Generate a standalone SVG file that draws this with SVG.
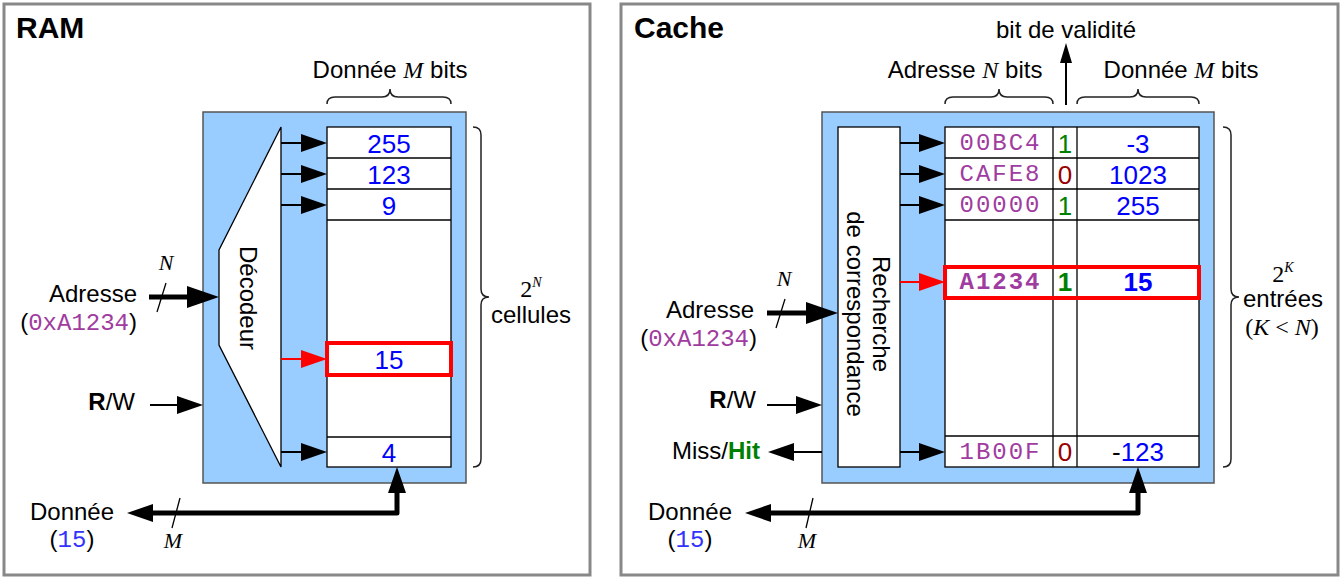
<svg xmlns="http://www.w3.org/2000/svg" width="1342" height="579" viewBox="0 0 1342 579">
<defs>
<style>
.t{font-family:"Liberation Sans",Arial,sans-serif;font-size:24px;fill:#000}
.ttl{font-family:"Liberation Sans",Arial,sans-serif;font-size:30px;font-weight:bold;fill:#000}
.m{font-family:"Liberation Serif","Times New Roman",serif;font-style:italic}
.sr{font-family:"Liberation Serif","Times New Roman",serif}
.mono{font-family:"Liberation Mono","Courier New",monospace}
.num{font-family:"Liberation Sans",Arial,sans-serif;font-size:26px;fill:#0000ff;text-anchor:middle}
.addr{font-family:"Liberation Mono","Courier New",monospace;font-size:24px;fill:#a03ca0;text-anchor:middle}
.g{fill:#008000}
.dr{fill:#990000}
.panel{fill:#fff;stroke:#888;stroke-width:3}
.blue{fill:#99ccff;stroke:#555;stroke-width:1.5}
.cell{fill:#fff;stroke:#000;stroke-width:1.3}
.ln{stroke:#000;stroke-width:1.3}
.brace{fill:none;stroke:#222;stroke-width:1.5}
.thin{stroke:#000;stroke-width:2;fill:none}
.thick{stroke:#000;stroke-width:5;fill:none;stroke-linejoin:round}
.redl{stroke:#ff0000;stroke-width:2;fill:none}
.hl{fill:none;stroke:#ff0000;stroke-width:4}
.slash{stroke:#000;stroke-width:1.3}
</style>
<marker id="ah" markerUnits="userSpaceOnUse" markerWidth="26" markerHeight="18" refX="0" refY="9" orient="auto-start-reverse"><path d="M0,0 L26,9 L0,18 z" fill="#000"/></marker>
<marker id="ahr" markerUnits="userSpaceOnUse" markerWidth="26" markerHeight="18" refX="0" refY="9" orient="auto"><path d="M0,0 L26,9 L0,18 z" fill="#ff0000"/></marker>
<marker id="ahb" markerUnits="userSpaceOnUse" markerWidth="32" markerHeight="22" refX="0" refY="11" orient="auto"><path d="M0,0 L32,11 L0,22 z" fill="#000"/></marker>
<marker id="ahd" markerUnits="userSpaceOnUse" markerWidth="26" markerHeight="18" refX="0" refY="9" orient="auto-start-reverse"><path d="M0,0 L26,9 L0,18 z" fill="#000"/></marker>
<marker id="ahs" markerUnits="userSpaceOnUse" markerWidth="20" markerHeight="12" refX="0" refY="6" orient="auto"><path d="M0,0 L20,6 L0,12 z" fill="#000"/></marker>
</defs>

<!-- ================= RAM ================= -->
<g id="ram-panel">
<rect class="panel" x="4" y="4" width="586" height="571"/>
<text class="ttl" x="16" y="38">RAM</text>
</g>
<g id="ram-header">
<text class="t" x="390" y="78" text-anchor="middle">Donnée <tspan class="m">M</tspan> bits</text>
<path class="brace" d="M327,104 Q327,97 335,97 L382,97 Q390,97 390,89 Q390,97 398,97 L443,97 Q451,97 451,104"/>
</g>
<g id="ram-block">
<rect class="blue" x="203" y="112" width="263" height="371"/>
</g>
<g id="ram-decoder">
<polygon points="281,127 219,250 219,345 281,467" fill="#fff" stroke="#000" stroke-width="1.3"/>
<text class="t" transform="translate(240,298) rotate(90)" text-anchor="middle">Décodeur</text>
</g>
<g id="ram-cells">
<rect class="cell" x="327" y="127" width="124" height="340"/>
<line class="ln" x1="327" y1="158" x2="451" y2="158"/>
<line class="ln" x1="327" y1="189" x2="451" y2="189"/>
<line class="ln" x1="327" y1="220" x2="451" y2="220"/>
<line class="ln" x1="327" y1="437" x2="451" y2="437"/>
<text class="num" x="389" y="153">255</text>
<text class="num" x="389" y="184">123</text>
<text class="num" x="389" y="215">9</text>
<text class="num" x="389" y="462">4</text>
</g>
<g id="ram-selected">
<rect class="hl" x="327" y="343" width="124" height="32"/>
<text class="num" x="389" y="369">15</text>
</g>
<g id="ram-count">
<path class="brace" d="M473,127 Q481,127 481,135 L481,289 Q481,297 489,297 Q481,297 481,305 L481,459 Q481,467 473,467"/>
<text class="sr" x="531" y="297" font-size="24" text-anchor="middle">2<tspan class="m" font-size="14" dy="-10">N</tspan></text>
<text class="t" x="531" y="323" text-anchor="middle">cellules</text>
</g>
<g id="ram-adresse">
<text class="t" x="137" y="302" text-anchor="end">Adresse</text>
<text class="t" x="137" y="330" text-anchor="end">(<tspan class="mono" fill="#a03ca0">0xA1234</tspan>)</text>
<text class="m" x="166" y="270" font-size="22" text-anchor="middle">N</text>
</g>
<g id="ram-rw">
<text class="t" x="135" y="410" text-anchor="end"><tspan font-weight="bold">R</tspan>/W</text>
</g>
<g id="ram-donnee">
<text class="t" x="72" y="520" text-anchor="middle">Donnée</text>
<text class="t" x="72" y="547" text-anchor="middle">(<tspan class="mono" fill="#3333ff">15</tspan>)</text>
<text class="m" x="173" y="548" font-size="22" text-anchor="middle">M</text>
</g>

<!-- ================= Cache ================= -->
<g id="cache-panel">
<rect class="panel" x="621" y="4" width="717" height="571"/>
<text class="ttl" x="634" y="38">Cache</text>
</g>
<g id="cache-header">
<text class="t" x="1066" y="38" text-anchor="middle">bit de validité</text>
<text class="t" x="965" y="78" text-anchor="middle">Adresse <tspan class="m">N</tspan> bits</text>
<text class="t" x="1181" y="78" text-anchor="middle">Donnée <tspan class="m">M</tspan> bits</text>
<path class="brace" d="M945,104 Q945,97 953,97 L991,97 Q999,97 999,89 Q999,97 1007,97 L1045,97 Q1053,97 1053,104"/>
<path class="brace" d="M1077,104 Q1077,97 1085,97 L1130,97 Q1138,97 1138,89 Q1138,97 1146,97 L1191,97 Q1199,97 1199,104"/>
</g>
<g id="cache-block">
<rect class="blue" x="822" y="112" width="392" height="371"/>
</g>
<g id="cache-search">
<rect class="cell" x="838" y="127" width="62" height="340"/>
<text class="t" transform="translate(873,314) rotate(90)" text-anchor="middle">Recherche</text>
<text class="t" transform="translate(847,314) rotate(90)" text-anchor="middle">de correspondance</text>
</g>
<g id="cache-table">
<rect class="cell" x="945" y="127" width="254" height="340"/>
<line class="ln" x1="945" y1="158" x2="1199" y2="158"/>
<line class="ln" x1="945" y1="189" x2="1199" y2="189"/>
<line class="ln" x1="945" y1="220" x2="1199" y2="220"/>
<line class="ln" x1="945" y1="436" x2="1199" y2="436"/>
<line class="ln" x1="1053" y1="127" x2="1053" y2="467"/>
<line class="ln" x1="1077" y1="127" x2="1077" y2="467"/>
<text class="addr" x="999.5" y="150" textLength="80" lengthAdjust="spacing">00BC4</text>
<text class="num g" x="1065" y="153">1</text>
<text class="num" x="1138" y="153">-3</text>
<text class="addr" x="999.5" y="181" textLength="80" lengthAdjust="spacing">CAFE8</text>
<text class="num dr" x="1065" y="184">0</text>
<text class="num" x="1138" y="184">1023</text>
<text class="addr" x="999.5" y="212" textLength="80" lengthAdjust="spacing">00000</text>
<text class="num g" x="1065" y="215">1</text>
<text class="num" x="1138" y="215">255</text>
<text class="addr" x="999.5" y="459" textLength="80" lengthAdjust="spacing">1B00F</text>
<text class="num dr" x="1065" y="461">0</text>
<text class="num" x="1138" y="461"><tspan fill="#000">-</tspan>123</text>
</g>
<g id="cache-selected">
<rect class="hl" x="945" y="267" width="254" height="31"/>
<text class="addr" x="999.5" y="289" font-weight="bold" fill="#800080" textLength="80" lengthAdjust="spacing">A1234</text>
<text class="num g" x="1065" y="291" font-weight="bold">1</text>
<text class="num" x="1138" y="291" font-weight="bold">15</text>
</g>
<g id="cache-count">
<path class="brace" d="M1223,127 Q1231,127 1231,135 L1231,289 Q1231,297 1239,297 Q1231,297 1231,305 L1231,459 Q1231,467 1223,467"/>
<text class="sr" x="1283" y="282" font-size="24" text-anchor="middle">2<tspan class="m" font-size="14" dy="-10">K</tspan></text>
<text class="t" x="1283" y="307" text-anchor="middle">entrées</text>
<text class="sr" x="1282" y="335" font-size="24" text-anchor="middle">(<tspan class="m">K</tspan> &lt; <tspan class="m">N</tspan>)</text>
</g>
<g id="cache-adresse">
<text class="t" x="754" y="318" text-anchor="end">Adresse</text>
<text class="t" x="757" y="346" text-anchor="end">(<tspan class="mono" fill="#a03ca0">0xA1234</tspan>)</text>
<text class="m" x="784" y="286" font-size="22" text-anchor="middle">N</text>
</g>
<g id="cache-rw">
<text class="t" x="756" y="408" text-anchor="end"><tspan font-weight="bold">R</tspan>/W</text>
</g>
<g id="cache-misshit">
<text class="t" x="760" y="459" text-anchor="end">Miss/<tspan font-weight="bold" fill="#008000">Hit</tspan></text>
</g>
<g id="cache-donnee">
<text class="t" x="690" y="520" text-anchor="middle">Donnée</text>
<text class="t" x="690" y="547" text-anchor="middle">(<tspan class="mono" fill="#3333ff">15</tspan>)</text>
<text class="m" x="807" y="548" font-size="22" text-anchor="middle">M</text>
</g>

<!-- ================= Connectors ================= -->
<g id="connectors">
<!-- RAM -->
<line class="thin" x1="281" y1="143" x2="301" y2="143" marker-end="url(#ah)"/>
<line class="thin" x1="281" y1="174" x2="301" y2="174" marker-end="url(#ah)"/>
<line class="thin" x1="281" y1="205" x2="301" y2="205" marker-end="url(#ah)"/>
<line class="thin" x1="281" y1="452" x2="301" y2="452" marker-end="url(#ah)"/>
<line class="redl" x1="281" y1="359" x2="301" y2="359" marker-end="url(#ahr)"/>
<line class="thick" x1="149" y1="297" x2="187" y2="297" marker-end="url(#ahb)"/>
<line class="slash" x1="157" y1="312" x2="166" y2="283"/>
<line class="thin" x1="150" y1="405" x2="177" y2="405" marker-end="url(#ah)"/>
<path class="thick" d="M397,493 L397,513 L153,513" marker-start="url(#ahd)" marker-end="url(#ahd)"/>
<line class="slash" x1="172" y1="528" x2="180" y2="498"/>
<!-- Cache -->
<line class="thin" x1="900" y1="143" x2="919" y2="143" marker-end="url(#ah)"/>
<line class="thin" x1="900" y1="174" x2="919" y2="174" marker-end="url(#ah)"/>
<line class="thin" x1="900" y1="205" x2="919" y2="205" marker-end="url(#ah)"/>
<line class="thin" x1="900" y1="452" x2="919" y2="452" marker-end="url(#ah)"/>
<line class="redl" x1="900" y1="282" x2="919" y2="282" marker-end="url(#ahr)"/>
<line class="thick" x1="767" y1="313" x2="806" y2="313" marker-end="url(#ahb)"/>
<line class="slash" x1="776" y1="328" x2="785" y2="299"/>
<line class="thin" x1="767" y1="405" x2="796" y2="405" marker-end="url(#ah)"/>
<line class="thin" x1="822" y1="452" x2="794" y2="452" marker-end="url(#ah)"/>
<line class="thin" x1="1066" y1="105" x2="1066" y2="63" marker-end="url(#ahs)"/>
<path class="thick" d="M1138,493 L1138,513 L771,513" marker-start="url(#ahd)" marker-end="url(#ahd)"/>
<line class="slash" x1="806" y1="528" x2="813" y2="498"/>
</g>
</svg>
